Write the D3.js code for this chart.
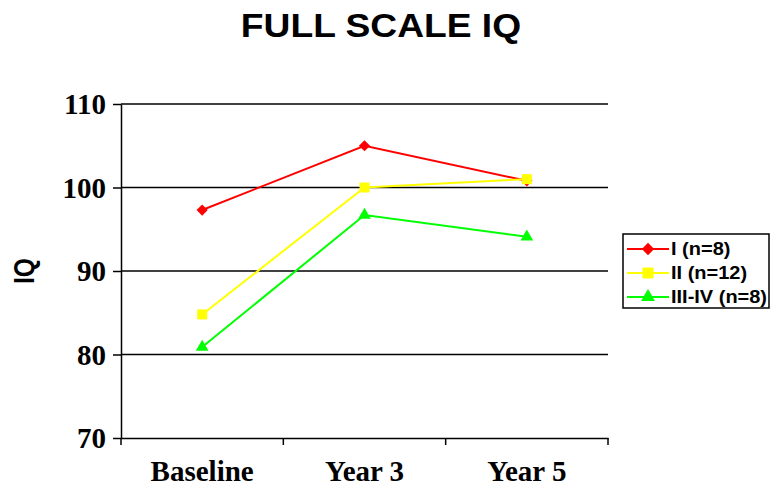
<!DOCTYPE html>
<html>
<head>
<meta charset="utf-8">
<script src="https://cdn.jsdelivr.net/npm/d3@7"></script>
<style>
  body { margin: 0; background: #fff; }
  svg { display: block; }
</style>
</head>
<body>
<div id="chart"></div>
<script>
// data
const categories = ["Baseline", "Year 3", "Year 5"];
const groupNames = ["I (n=8)", "II (n=12)", "III-IV (n=8)"];
const groupI = [97.3, 105.0, 100.8];
const groupII = [84.8, 100.0, 101.0];
const groupIIIIV = [80.9, 96.7, 94.1];
const yTicks = [70, 80, 90, 100, 110];

const series = [
    {name: groupNames[0], values: groupI, color: "#ff0000", symbol: d3.symbolDiamond2, size: 80},
    {name: groupNames[1], values: groupII, color: "#ffff00", symbol: d3.symbolSquare, size: 100},
    {name: groupNames[2], values: groupIIIIV, color: "#00ff00", symbol: d3.symbolTriangle, size: 70}
];

const W = 772, H = 488;
const plot = {left: 121, right: 608, top: 104, bottom: 438};
const sansStretch = 1.11; // the sans text in the picture is a bit wider than Arial

const svg = d3.select("#chart").append("svg")
    .attr("width", W)
    .attr("height", H);

const x = d3.scaleBand()
    .domain(categories)
    .range([plot.left, plot.right]);

const y = d3.scaleLinear()
    .domain([70, 110])
    .range([plot.bottom, plot.top]);

function stretch(sel) {
    sel.each(function() {
        const w = this.getComputedTextLength();
        d3.select(this)
            .attr("textLength", w * sansStretch)
            .attr("lengthAdjust", "spacingAndGlyphs");
    });
}

// title
svg.append("text")
    .attr("x", 381)
    .attr("y", 37)
    .attr("text-anchor", "middle")
    .style("font-family", "Liberation Sans, Arial, sans-serif")
    .style("font-weight", "bold")
    .style("font-size", "33.5px")
    .text("FULL SCALE IQ")
    .call(stretch);

// gridlines
svg.append("g")
    .selectAll("line")
    .data(yTicks.slice(1))
    .enter()
    .append("line")
    .attr("x1", plot.left)
    .attr("x2", plot.right)
    .attr("y1", d => y(d))
    .attr("y2", d => y(d))
    .attr("stroke", "#000")
    .attr("stroke-width", 1.5);

// y axis
const yAxis = svg.append("g")
    .attr("transform", `translate(${plot.left},0)`)
    .call(d3.axisLeft(y).tickValues(yTicks).tickSize(8).tickPadding(7).tickSizeOuter(0));
yAxis.select(".domain").attr("stroke-width", 1.5);
yAxis.selectAll(".tick line").attr("stroke-width", 1.5);
yAxis.selectAll("text")
    .style("font-family", "Liberation Serif, Times New Roman, serif")
    .style("font-weight", "bold")
    .style("font-size", "29px")
    .attr("dy", "0.34em");

// x axis
const xAxis = svg.append("g")
    .attr("transform", `translate(0,${plot.bottom})`)
    .call(d3.axisBottom(x).tickSize(0).tickPadding(22));
xAxis.select(".domain").attr("stroke-width", 1.5);
xAxis.selectAll("text")
    .style("font-family", "Liberation Serif, Times New Roman, serif")
    .style("font-weight", "bold")
    .style("font-size", "29px");

// category separator ticks on x axis
const sepX = categories.map(c => x(c)).concat([plot.right]);
svg.append("g")
    .selectAll("line")
    .data(sepX)
    .enter()
    .append("line")
    .attr("x1", d => d)
    .attr("x2", d => d)
    .attr("y1", plot.bottom)
    .attr("y2", plot.bottom + 7)
    .attr("stroke", "#000")
    .attr("stroke-width", 1.5);

// y axis title
svg.append("text")
    .attr("transform", "translate(34,271)rotate(-90)")
    .attr("text-anchor", "middle")
    .style("font-family", "Liberation Sans, Arial, sans-serif")
    .style("font-weight", "bold")
    .style("font-size", "29px")
    .text("IQ")
    .attr("textLength", 26)
    .attr("lengthAdjust", "spacingAndGlyphs");

const cx = i => x(categories[i]) + x.bandwidth() / 2;

const line = d3.line()
    .x((d, i) => cx(i))
    .y(d => y(d));

series.forEach(s => {
    svg.append("path")
        .datum(s.values)
        .attr("d", line)
        .attr("fill", "none")
        .attr("stroke", s.color)
        .attr("stroke-width", 2);

    svg.append("g")
        .selectAll("path")
        .data(s.values)
        .enter()
        .append("path")
        .attr("transform", (d, i) => `translate(${cx(i)},${y(d)})`)
        .attr("d", d3.symbol().type(s.symbol).size(s.size))
        .attr("fill", s.color);
});

// legend
const legend = svg.append("g").attr("transform", "translate(623,234)");
legend.append("rect")
    .attr("width", 146)
    .attr("height", 74)
    .attr("fill", "#fff")
    .attr("stroke", "#000")
    .attr("stroke-width", 1.5);

series.forEach((s, i) => {
    const ly = 15 + i * 24;
    legend.append("line")
        .attr("x1", 4).attr("x2", 46)
        .attr("y1", ly).attr("y2", ly)
        .attr("stroke", s.color)
        .attr("stroke-width", 2);
    legend.append("path")
        .attr("transform", `translate(25,${ly})`)
        .attr("d", d3.symbol().type(s.symbol).size(s.size * 1.2))
        .attr("fill", s.color);
    legend.append("text")
        .attr("x", 48)
        .attr("y", ly)
        .attr("dy", "0.36em")
        .style("font-family", "Liberation Sans, Arial, sans-serif")
        .style("font-weight", "bold")
        .style("font-size", "18px")
        .text(s.name)
        .call(stretch);
});
</script>
</body>
</html>
